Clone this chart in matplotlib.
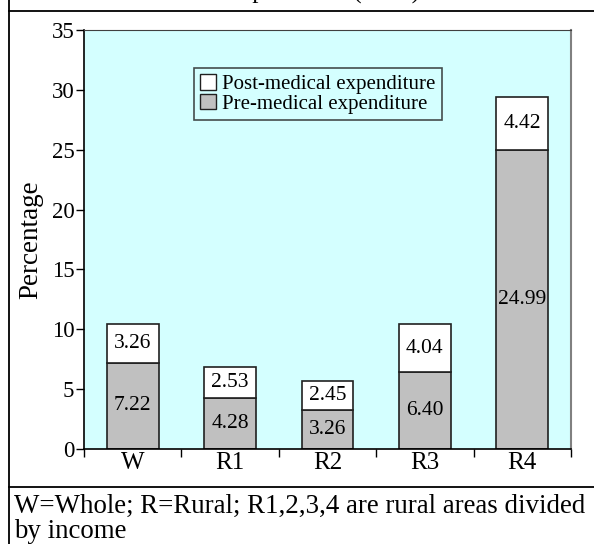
import matplotlib
matplotlib.use("Agg")
import matplotlib.pyplot as plt
from matplotlib.patches import Patch
from matplotlib.lines import Line2D
import numpy as np

plt.rcParams['font.family'] = ['Liberation Serif', 'DejaVu Serif']

categories = ["W", "R1", "R2", "R3", "R4"]
pre_values = [7.22, 4.28, 3.26, 6.40, 24.99]
post_values = [3.26, 2.53, 2.45, 4.04, 4.42]
pre_labels = ["7.22", "4.28", "3.26", "6.40", "24.99"]
post_labels = ["3.26", "2.53", "2.45", "4.04", "4.42"]
y_ticks = [0, 5, 10, 15, 20, 25, 30, 35]

W, H = 594, 544
fig = plt.figure(figsize=(W / 100, H / 100), dpi=100)
fig.patch.set_facecolor("white")


def fx(px):
    return px / W


def fy(py):
    return 1 - py / H


# outer table frame
fig.add_artist(Line2D([fx(9), fx(9)], [0, 1], color="black", lw=1.3, transform=fig.transFigure))
fig.add_artist(Line2D([fx(9), 1], [fy(10.5), fy(10.5)], color="black", lw=1.3, transform=fig.transFigure))
fig.add_artist(Line2D([fx(9), 1], [fy(487), fy(487)], color="black", lw=1.3, transform=fig.transFigure))

# title row, cut off by the top edge (only descenders visible)
fig.text(fx(420), fy(-1.5), "Medical expenditure (2005)", ha="right", va="baseline", fontsize=18)

# caption
fig.text(fx(14), fy(513), "W=Whole; R=Rural; R1,2,3,4 are rural areas divided", ha="left", va="baseline", fontsize=19.4)
fig.text(fx(14), fy(537.5), "by income", ha="left", va="baseline", fontsize=19.4)

ax = fig.add_axes([fx(84), fy(449), (571 - 84) / W, (449 - 30) / H])
ax.set_facecolor("#d4ffff")

x = np.arange(len(categories))
bw = 0.53
ax.bar(x, pre_values, bw, color="#c0c0c0", edgecolor="#202020", linewidth=1.2, zorder=2)
ax.bar(x, post_values, bw, bottom=pre_values, color="white", edgecolor="#202020", linewidth=1.2, zorder=2)

for i in range(len(categories)):
    ax.text(x[i], pre_values[i] / 2, pre_labels[i], ha="center", va="center", fontsize=15.5, zorder=3)
    ax.text(x[i], pre_values[i] + post_values[i] / 2, post_labels[i], ha="center", va="center", fontsize=15.5, zorder=3)

ax.set_xlim(-0.5, len(categories) - 0.5)
ax.set_ylim(0, 35)
ax.set_yticks(y_ticks)
ax.set_yticklabels([str(v) for v in y_ticks], fontsize=16.5)
ax.tick_params(axis="y", direction="out", length=6, width=1, pad=1)

ax.set_xticks(x)
ax.set_xticklabels(categories, fontsize=18)
ax.tick_params(axis="x", which="major", length=0, pad=2)
ax.set_xticks(np.arange(-0.5, len(categories), 1.0), minor=True)
ax.tick_params(axis="x", which="minor", direction="out", length=6, width=1)

ax.set_ylabel("Percentage", fontsize=19.5, labelpad=6)

for s in ["left", "bottom"]:
    ax.spines[s].set_color("black")
    ax.spines[s].set_linewidth(1.2)
ax.spines["top"].set_color("#404040")
ax.spines["right"].set_color("#808080")
ax.spines["right"].set_linewidth(1.5)

handles = [Patch(facecolor="white", edgecolor="#202020", label="Post-medical expenditure"),
           Patch(facecolor="#c0c0c0", edgecolor="#202020", label="Pre-medical expenditure")]
leg = ax.legend(handles=handles, loc="upper left", bbox_to_anchor=((194 - 84) / 487, (449 - 68) / 419),
                borderaxespad=0, fontsize=15, frameon=True, fancybox=False, handlelength=0.75,
                handleheight=0.75, handletextpad=0.3, labelspacing=0.0, borderpad=0.3)
leg.get_frame().set_edgecolor("#202020")
leg.get_frame().set_facecolor("#d4ffff")
leg.get_frame().set_linewidth(1.2)

fig.savefig("out.png", dpi=100)
